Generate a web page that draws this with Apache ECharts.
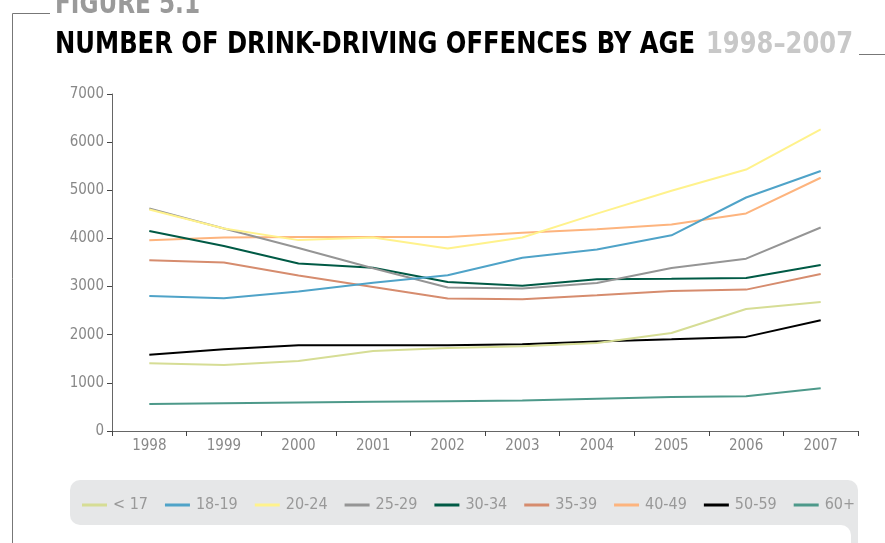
<!DOCTYPE html>
<html><head><meta charset="utf-8">
<script src="https://cdn.jsdelivr.net/npm/echarts@6/dist/echarts.min.js"></script>
<style>html,body{margin:0;padding:0;background:#fff;}#c{width:885px;height:543px;}</style>
</head><body><div id="c"></div>
<script>
const years = ['1998','1999','2000','2001','2002','2003','2004','2005','2006','2007'];
const seriesNames = ['< 17','18-19','20-24','25-29','30-34','35-39','40-49','50-59','60+'];
const lt17   = [1405,1370,1455,1660,1725,1760,1830,2035,2535,2680];
const a18_19 = [2805,2757,2900,3080,3235,3600,3770,4065,4850,5400];
const a20_24 = [4600,4205,3965,4020,3790,4020,4515,4990,5430,6265];
const a25_29 = [4620,4205,3800,3380,2980,2958,3075,3387,3580,4227];
const a30_34 = [4156,3844,3480,3390,3096,3015,3150,3160,3180,3450];
const a35_39 = [3547,3500,3230,2990,2750,2736,2820,2910,2937,3262];
const a40_49 = [3963,4020,4030,4030,4030,4120,4190,4290,4520,5260];
const a50_59 = [1586,1696,1780,1780,1780,1800,1860,1905,1955,2300];
const a60p   = [560,575,590,605,620,636,670,705,720,890];
const yTicks = [0,1000,2000,3000,4000,5000,6000,7000];

const allData = [lt17,a18_19,a20_24,a25_29,a30_34,a35_39,a40_49,a50_59,a60p];
const colors = ['#d6dd95','#4fa3c8','#fff28c','#959595','#005a45','#d68c6e','#fdb47e','#000000','#4d998a'];

const NARROW = "'Liberation Sans Narrow','DejaVu Sans Condensed','Roboto','Arial',sans-serif";

function fitScale(text, font, target){
  const cv = document.createElement('canvas').getContext('2d');
  cv.font = font;
  const w = cv.measureText(text).width;
  return w > 0 ? target / w : 1;
}
const titleFont = "bold 30px " + NARROW;
const s1 = fitScale('NUMBER OF DRINK-DRIVING OFFENCES BY AGE', titleFont, 640);
const s2 = fitScale('1998\u20132007', titleFont, 147);
const s0 = fitScale('FIGURE 5.1', titleFont, 145);

const chart = echarts.init(document.getElementById('c'), null, {renderer:'canvas'});
chart.setOption({
  animation:false,
  backgroundColor:'#ffffff',
  color: colors,
  grid:{left:112, right:27, top:94, bottom:112, containLabel:false},
  xAxis:{
    type:'category', data:years, boundaryGap:true,
    axisLine:{lineStyle:{color:'#666',width:1}},
    axisTick:{show:true, length:5, lineStyle:{color:'#444'}},
    axisLabel:{color:'#888', fontSize:15, fontFamily:NARROW, margin:8}
  },
  yAxis:{
    type:'value', min:0, max:7000, interval:1000,
    axisLine:{show:true, lineStyle:{color:'#666',width:1}},
    axisTick:{show:true, length:5, lineStyle:{color:'#444'}},
    splitLine:{show:false},
    axisLabel:{color:'#888', fontSize:15, fontFamily:NARROW, margin:8,
      formatter:function(v){ return yTicks.indexOf(v) >= 0 ? String(v) : ''; }}
  },
  legend:{
    data: seriesNames, left:82, top:497, width:790, padding:0, itemWidth:25, itemHeight:3, itemGap:17,
    icon:'rect', textStyle:{color:'#999', fontSize:16, fontFamily:NARROW, padding:[0,0,0,1]}
  },
  graphic:[
    {type:'rect', z:-10, shape:{x:840,y:505,width:18,height:40}, style:{fill:'#e6e7e8'}},
    {type:'rect', z:-9, shape:{x:70,y:480,width:788,height:45,r:10}, style:{fill:'#e6e7e8'}},
    {type:'rect', z:-8, shape:{x:60,y:525,width:791,height:40,r:[0,10,0,0]}, style:{fill:'#ffffff'}},
    {type:'line', shape:{x1:12.5,y1:13.5,x2:50,y2:13.5}, style:{stroke:'#777',lineWidth:1}},
    {type:'line', shape:{x1:12.5,y1:13.5,x2:12.5,y2:543}, style:{stroke:'#777',lineWidth:1}},
    {type:'line', shape:{x1:859,y1:54.5,x2:885,y2:54.5}, style:{stroke:'#777',lineWidth:1}},
    {type:'text', x:55, y:-10, scaleX:s0, style:{text:'FIGURE 5.1', font:titleFont, fill:'#9a9a9a'}},
    {type:'text', x:55, y:30, scaleX:s1, style:{text:'NUMBER OF DRINK-DRIVING OFFENCES BY AGE', font:titleFont, fill:'#000'}},
    {type:'text', x:706, y:30, scaleX:s2, style:{text:'1998\u20132007', font:titleFont, fill:'#c8c8c8'}}
  ],
  series: seriesNames.map((n,i)=>({
    name:n, type:'line', data:allData[i], showSymbol:false, symbol:'none',
    lineStyle:{width:2, color:colors[i]}, itemStyle:{color:colors[i]}, z: 10-i
  }))
});
</script></body></html>
